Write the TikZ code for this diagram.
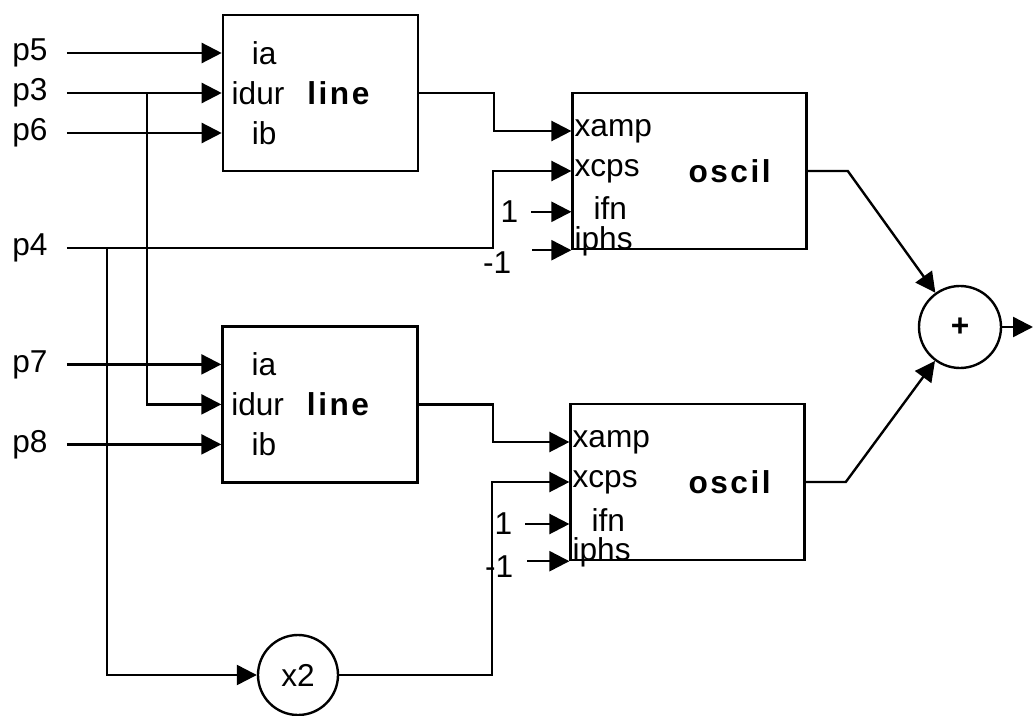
\documentclass[tikz,border=0pt]{standalone}
\usepackage{fontspec}
\setmainfont{Liberation Sans}
\newfontfamily\blockfont[LetterSpace=8]{Liberation Sans}
\usetikzlibrary{positioning, calc, arrows.meta}

\begin{document}
\begin{tikzpicture}[line width=1.7pt, >={Triangle[length=0.5cm,width=0.5cm]},
    font=\fontsize{22.5}{26}\selectfont,
    linebox/.style={draw, minimum width=4.875cm, minimum height=3.9cm},
    oscbox/.style={draw, minimum width=5.85cm, minimum height=3.9cm},
    opcirc/.style={draw, circle, minimum size=2.05cm, inner sep=0pt},
    lbl/.style={inner sep=0pt}]

    % Frame
    \useasboundingbox (0,0) rectangle (25.825,-17.9);

    % Blocks
    \node[linebox] (la) at (8.01,-2.325) {};
    \node[linebox] (lb) at (8.0,-10.11) {};
    \node[oscbox] (oa) at (17.24,-4.275) {};
    \node[oscbox] (ob) at (17.19,-12.05) {};
    \node[opcirc] (sum) at (24.0,-8.175) {\textbf{+}};
    \node[opcirc, minimum size=2cm] (dbl) at (7.45,-16.875) {x2};

    % Ports
    \coordinate (la-p1) at ($(la.west)+(0,1)$);
    \coordinate (la-p2) at (la.west);
    \coordinate (la-p3) at ($(la.west)+(0,-1)$);
    \coordinate (lb-p1) at ($(lb.west)+(0,1)$);
    \coordinate (lb-p2) at (lb.west);
    \coordinate (lb-p3) at ($(lb.west)+(0,-1)$);
    \coordinate (oa-p1) at ($(oa.west)+(0,1)$);
    \coordinate (oa-p2) at (oa.west);
    \coordinate (oa-p3) at ($(oa.west)+(0,-1.02)$);
    \coordinate (oa-p4) at (oa.south west);
    \coordinate (ob-p1) at ($(ob.west)+(0,1)$);
    \coordinate (ob-p2) at (ob.west);
    \coordinate (ob-p3) at ($(ob.west)+(0,-1.05)$);
    \coordinate (ob-p4) at (ob.south west);

    % Texts in the line blocks
    \node[lbl, anchor=west] (la-ia) at ($(la-p1)+(0.725,0)$) {ia};
    \node[lbl, anchor=west] (la-dur) at ($(la-p2)+(0.22,0)$) {idur};
    \node[lbl, anchor=west] (la-ib) at ($(la-p3)+(0.725,0)$) {ib};
    \node[lbl] (la-name) at ($(la.center)+(0.45,0)$) {\blockfont\bfseries line};
    \node[lbl, anchor=west] (lb-ia) at ($(lb-p1)+(0.725,0)$) {ia};
    \node[lbl, anchor=west] (lb-dur) at ($(lb-p2)+(0.22,0)$) {idur};
    \node[lbl, anchor=west] (lb-ib) at ($(lb-p3)+(0.725,0)$) {ib};
    \node[lbl] (lb-name) at ($(lb.center)+(0.45,0)$) {\blockfont\bfseries line};

    % Texts in the oscil blocks
    \node[lbl, anchor=west] (oa-amp) at ($(oa-p1)+(0.05,0)$) {xamp};
    \node[lbl, anchor=west] (oa-cps) at ($(oa-p2)+(0.05,0)$) {xcps};
    \node[lbl, anchor=west] (oa-fn) at ($(oa-p3)+(0.525,0.1)$) {ifn};
    \node[lbl, anchor=base west] (oa-phs) at ($(oa-p4)+(0.05,0.02)$) {iphs};
    \node[lbl] (oa-name) at ($(oa.center)+(1.0,0)$) {\blockfont\bfseries oscil};
    \node[lbl, anchor=west] (ob-amp) at ($(ob-p1)+(0.05,0)$) {xamp};
    \node[lbl, anchor=west] (ob-cps) at ($(ob-p2)+(0.05,0)$) {xcps};
    \node[lbl, anchor=west] (ob-fn) at ($(ob-p3)+(0.525,0.1)$) {ifn};
    \node[lbl, anchor=base west] (ob-phs) at ($(ob-p4)+(0.05,0.02)$) {iphs};
    \node[lbl] (ob-name) at ($(ob.center)+(1.05,0)$) {\blockfont\bfseries oscil};

    % Inputs
    \node[lbl] (p5) at (0.75,-1.325) {p5};
    \node[lbl] (p3) at (0.75,-2.325) {p3};
    \node[lbl] (p6) at (0.75,-3.325) {p6};
    \node[lbl] (p4) at (0.75,-6.2) {p4};
    \node[lbl] (p7) at (0.75,-9.11) {p7};
    \node[lbl] (p8) at (0.75,-11.11) {p8};

    \draw[->] ([xshift=0.45cm]p5.east) -- (la-p1);
    \draw[->] ([xshift=0.45cm]p3.east) -- (la-p2);
    \draw[->] ([xshift=0.45cm]p6.east) -- (la-p3);
    \draw[->] ([xshift=0.45cm]p7.east) -- (lb-p1);
    \draw[->] ([xshift=0.45cm]p8.east) -- (lb-p3);

    % Branches of p3 and p4
    \coordinate (j3) at (3.675,-2.325);
    \coordinate (j4) at (2.675,-6.2);
    \coordinate (t4) at (12.325,-6.2);
    \draw[->] (j3) |- (lb-p2);
    \draw[->] ([xshift=0.45cm]p4.east) -- (t4) |- (oa-p2);
    \draw[->] (j4) |- (dbl);

    % Line outputs
    \coordinate (ta) at (12.35,-2.325);
    \coordinate (tb) at (12.325,-10.11);
    \draw[->] (la.east) -- (ta) |- (oa-p1);
    \draw[->] (lb.east) -- (tb) |- (ob-p1);

    % Doubled frequency
    \coordinate (t8) at (12.3,-16.875);
    \draw[->] (dbl.east) -- (t8) |- (ob-p2);

    % Constants
    \node[lbl, left=1.3cm of oa-p3] (oa-one) {1};
    \node[lbl, left=1.4cm of ob-p3] (ob-one) {1};
    \draw[->] ([xshift=0.3cm]oa-one.east) -- (oa-p3);
    \draw[->] ([xshift=0.3cm]ob-one.east) -- (ob-p3);
    \node[lbl, anchor=north east] (oa-neg) at ($(oa-p4)+(-1.475,0)$) {-1};
    \node[lbl, anchor=north east] (ob-neg) at ($(ob-p4)+(-1.375,0.175)$) {-1};
    \draw[->] ([xshift=-0.975cm]oa-p4) -- (oa-p4);
    \draw[->] ([xshift=-1.05cm]ob-p4) -- (ob-p4);

    % Mixing
    \coordinate (ra) at ($(oa.east)+(1,0)$);
    \coordinate (rb) at ($(ob.east)+(1,0)$);
    \coordinate (out) at (25.825,-8.175);
    \draw[->] (oa.east) -- (ra) -- (sum);
    \draw[->] (ob.east) -- (rb) -- (sum);
    \draw[->] (sum) -- (out);

\end{tikzpicture}
\end{document}
